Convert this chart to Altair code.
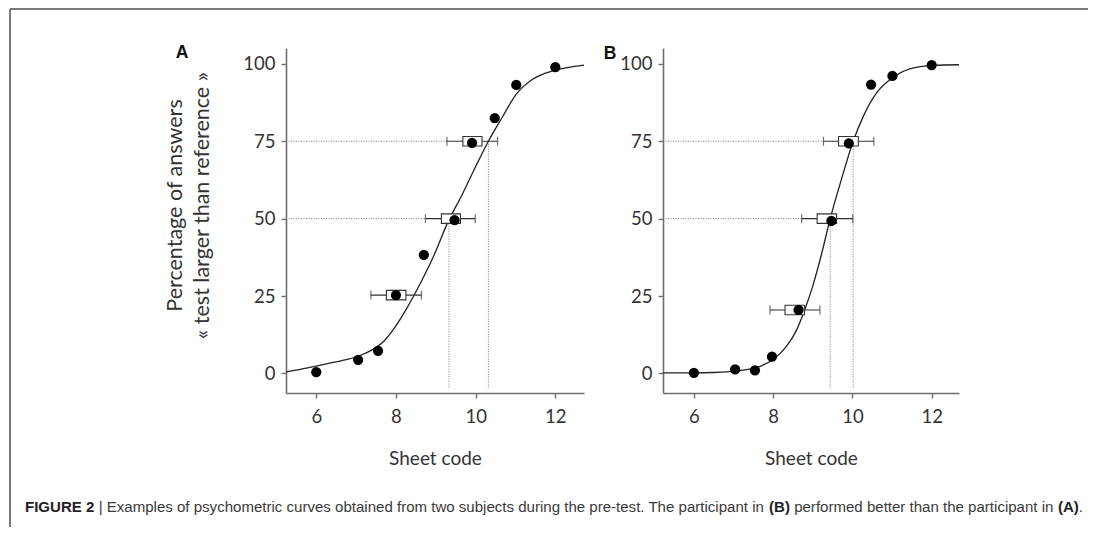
import altair as alt
import pandas as pd

# ---------------- data ----------------
x_ticks = [6, 8, 10, 12]
y_ticks = [0, 25, 50, 75, 100]

# Panel A
a_code = [6.0, 7.05, 7.55, 8.0, 8.7, 9.47, 9.91, 10.48, 11.02, 12.0]
a_pct = [0.4, 4.4, 7.3, 25.3, 38.3, 49.5, 74.5, 82.5, 93.2, 98.9]
a_fit_code = [5.24, 5.6, 6.0, 6.4, 6.8, 7.1, 7.4, 7.7, 7.95, 8.26, 8.6, 8.95,
              9.3, 9.65, 9.98, 10.32, 10.68, 11.02, 11.43, 11.93, 12.3, 12.72]
a_fit_pct = [0.5, 1.3, 2.4, 3.5, 4.6, 5.8, 7.6, 10.5, 14.5, 20.8, 28.8, 38.0,
             48.8, 57.5, 66.3, 75.0, 83.0, 90.2, 95.0, 97.7, 98.8, 99.6]
a_box_pct = [25.3, 50, 75]
a_box_lo = [7.76, 9.14, 9.68]
a_box_hi = [8.25, 9.62, 10.16]
a_whisk_lo = [7.37, 8.74, 9.28]
a_whisk_hi = [8.64, 9.99, 10.55]
a_thr_pct = [50, 75]
a_thr_code = [9.33, 10.32]

# Panel B
b_code = [6.0, 7.04, 7.54, 7.97, 8.64, 9.47, 9.91, 10.47, 11.01, 12.0]
b_pct = [0.2, 1.3, 1.0, 5.4, 20.5, 49.3, 74.3, 93.3, 96.1, 99.6]
b_fit_code = [5.22, 6.0, 6.5, 6.83, 7.1, 7.33, 7.67, 8.0, 8.34, 8.59, 8.76, 9.01,
              9.22, 9.44, 9.73, 10.02, 10.28, 10.61, 10.99, 11.45, 12.04, 12.69]
b_fit_pct = [0.2, 0.2, 0.3, 0.5, 0.8, 1.2, 2.3, 4.5, 8.8, 14.0, 19.3, 28.7,
             38.5, 50.0, 63.0, 75.0, 83.2, 90.6, 95.3, 98.4, 99.5, 99.7]
b_box_pct = [20.5, 50, 75]
b_box_lo = [8.30, 9.11, 9.65]
b_box_hi = [8.79, 9.60, 10.15]
b_whisk_lo = [7.92, 8.72, 9.27]
b_whisk_hi = [9.18, 10.01, 10.54]
b_thr_pct = [50, 75]
b_thr_code = [9.44, 10.02]

y_title = ["Percentage of answers", "\u00ab test larger than reference \u00bb"]
x_title = "Sheet code"
caption_parts = [
    ("FIGURE 2", True),
    ("| Examples of psychometric curves obtained from two subjects during the pre-test. The participant in", False),
    ("(B)", True),
    ("performed better than the participant in", False),
    ("(A)", True),
    (".", False),
]

# ---------------- layout constants ----------------
YDOM = [-4.7, 103.5]
H = 345
A_DOM = [5.24, 12.72]
B_DOM = [5.22, 12.69]
WA = 298
WB = 296
FONT = "Lato"
TXT = "#333333"

one = pd.DataFrame({"k": [0]})

# caption text widths (Liberation Sans / Arial metrics, per 1000 em)
REG = {' ': 278, '|': 260, 'E': 667, 'T': 611, 'x': 500, 'a': 556, 'm': 833, 'p': 556,
       'l': 222, 'e': 556, 's': 500, 'o': 556, 'f': 278, 'y': 500, 'c': 500, 'h': 556,
       't': 278, 'r': 333, 'i': 222, 'u': 556, 'v': 500, 'b': 556, 'n': 556, 'd': 556,
       'w': 722, 'j': 222, 'g': 556, '-': 333, '.': 278}
BLD = {' ': 278, 'F': 611, 'I': 278, 'G': 778, 'U': 722, 'R': 722, 'E': 667, '2': 556,
       '(': 333, ')': 333, 'B': 722, 'A': 722}


def units(s, bold):
    t = BLD if bold else REG
    return sum(t.get(c, 556) for c in s)


CAP_X0, CAP_X1, CAP_Y = -261, 797, 459
total_units = sum(units(s, b) for s, b in caption_parts) + REG[' '] * (len(caption_parts) - 2)
cap_fs = (CAP_X1 - CAP_X0) * 1000 / total_units


def caption_layers():
    out = []
    x = CAP_X0
    for i, (s, b) in enumerate(caption_parts):
        out.append(
            alt.Chart(one).mark_text(
                text=s, align="left", baseline="middle", font="Liberation Sans",
                fontSize=cap_fs, fontWeight="bold" if b else "normal",
                color="#222222" if b else "#3a3a3a",
            ).encode(x=alt.value(x), y=alt.value(CAP_Y))
        )
        x += units(s, b) * cap_fs / 1000
        if i + 1 < len(caption_parts) and caption_parts[i + 1][0] != ".":
            x += REG[' '] * cap_fs / 1000
    return out


def panel(code, pct, fcode, fpct, bp, blo, bhi, wlo, whi, tp, tc, xdom, width, extras):
    xs = alt.Scale(domain=xdom, nice=False, zero=False)
    ys = alt.Scale(domain=YDOM, nice=False, zero=False)
    xax = alt.Axis(values=x_ticks, title=x_title)
    yax = alt.Axis(values=y_ticks, title=None)

    def X(f):
        return alt.X(f, type="quantitative", scale=xs, axis=xax)

    def Y(f):
        return alt.Y(f, type="quantitative", scale=ys, axis=yax)

    pts = pd.DataFrame({"x": code, "y": pct})
    fit = pd.DataFrame({"x": fcode, "y": fpct})
    box = pd.DataFrame({"lo": blo, "hi": bhi, "wlo": wlo, "whi": whi, "y": bp})
    caps = pd.DataFrame({"x": list(wlo) + list(whi), "y": list(bp) + list(bp)})
    # horizontal reference lines run from the axis to the left whisker of the box at that level
    href = pd.DataFrame({"x": [xdom[0]] * len(tp),
                         "x2": [wlo[bp.index(p)] for p in tp], "y": tp})
    vref = pd.DataFrame({"x": tc, "y": tp, "y2": [YDOM[0]] * len(tp)})
    dot = dict(color="#777777", strokeWidth=1, strokeDash=[1, 1.5])
    layers = [
        alt.Chart(href).mark_rule(**dot).encode(x=X("x"), x2="x2:Q", y=Y("y")),
        alt.Chart(vref).mark_rule(**dot).encode(x=X("x"), y=Y("y"), y2="y2:Q"),
        alt.Chart(fit).mark_line(color="#222222", strokeWidth=1.3, interpolate="monotone")
        .encode(x=X("x"), y=Y("y")),
        alt.Chart(box).mark_rule(color="#333333", strokeWidth=1.2)
        .encode(x=X("wlo"), x2="whi:Q", y=Y("y")),
        alt.Chart(caps).mark_tick(orient="vertical", size=9, thickness=1.2, color="#333333")
        .encode(x=X("x"), y=Y("y")),
        alt.Chart(box).mark_bar(size=9.5, fill="white", stroke="#333333", strokeWidth=1.1,
                                fillOpacity=1)
        .encode(x=X("lo"), x2="hi:Q", y=Y("y")),
        alt.Chart(pts).mark_circle(size=105, color="black", opacity=1)
        .encode(x=X("x"), y=Y("y")),
    ] + extras
    return alt.layer(*layers).properties(width=width, height=H)


def letter(t, x, y):
    return alt.Chart(one).mark_text(
        text=t, font="Liberation Sans", fontWeight="bold", fontSize=17.5,
        color="#111111", align="center", baseline="middle",
    ).encode(x=alt.value(x), y=alt.value(y))


extras_a = [
    # figure frame
    alt.Chart(one).mark_rule(color="#7a7a7a", strokeWidth=2)
    .encode(x=alt.value(-276), x2=alt.value(802), y=alt.value(-39)),
    alt.Chart(one).mark_rule(color="#7a7a7a", strokeWidth=2)
    .encode(x=alt.value(-276), y=alt.value(-39), y2=alt.value(479)),
    letter("A", -104, 5),
    alt.Chart(one).mark_text(text=y_title[0], angle=270, font=FONT, fontSize=21.5, color=TXT,
                             align="center", baseline="middle")
    .encode(x=alt.value(-110), y=alt.value(157.5)),
    alt.Chart(one).mark_text(text=y_title[1], angle=270, font=FONT, fontSize=21.5, color=TXT,
                             align="center", baseline="middle")
    .encode(x=alt.value(-83), y=alt.value(157.5)),
] + caption_layers()

extras_b = [letter("B", -53, 6)]

chart_a = panel(a_code, a_pct, a_fit_code, a_fit_pct, a_box_pct, a_box_lo, a_box_hi,
                a_whisk_lo, a_whisk_hi, a_thr_pct, a_thr_code, A_DOM, WA, extras_a)
chart_b = panel(b_code, b_pct, b_fit_code, b_fit_pct, b_box_pct, b_box_lo, b_box_hi,
                b_whisk_lo, b_whisk_hi, b_thr_pct, b_thr_code, B_DOM, WB, extras_b)

chart = alt.hconcat(chart_a, chart_b, spacing=79, bounds="flush").properties(
    padding={"left": 1, "top": 0, "right": 0, "bottom": 0},
    background="white",
).configure_view(stroke=None).configure_axis(
    grid=False,
    domainColor="#6e6e6e", domainWidth=1.6,
    tickColor="#6e6e6e", tickWidth=1.4, tickSize=5,
    labelFont=FONT, labelFontSize=18.5, labelColor=TXT,
    titleFont=FONT, titleFontSize=19, titleColor=TXT, titleFontWeight="normal",
).configure_axisX(labelPadding=9, titlePadding=24).configure_axisY(labelPadding=6)

chart.save("out.html", embed_options={"renderer": "svg", "actions": False})
